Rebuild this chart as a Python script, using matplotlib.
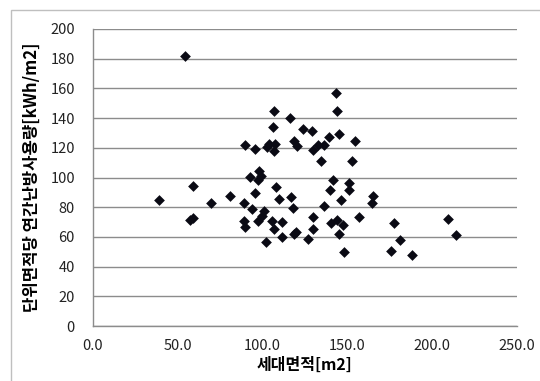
import matplotlib
matplotlib.use("Agg")
import matplotlib.pyplot as plt
from matplotlib.patches import Rectangle

plt.rcParams['font.family'] = ['Noto Sans CJK KR', 'DejaVu Sans']

area = [54.5, 39.0, 59.1, 57.5, 59.1, 69.5, 80.7, 89.8, 89.2, 89.2,
        89.8, 92.7, 94.1, 95.9, 95.9, 97.2, 98.0, 99.0, 97.6, 99.6,
        101.2, 102.0, 102.6, 104.1, 106.1, 106.7, 107.3, 106.7, 105.7, 106.7,
        108.3, 109.8, 111.4, 111.8, 116.3, 116.9, 118.3, 118.9, 120.3, 118.9,
        119.9, 124.2, 129.1, 129.7, 133.1, 134.6, 127.0, 129.7, 129.7, 136.6,
        139.2, 136.2, 140.2, 141.5, 140.7, 143.7, 144.3, 145.3, 144.3, 145.3,
        146.3, 147.8, 148.0, 151.4, 151.4, 152.8, 154.5, 157.3, 164.6, 165.2,
        175.8, 177.8, 181.3, 188.4, 209.8, 214.0]
energy = [181.8, 84.8, 94.3, 71.4, 72.5, 82.8, 87.5, 121.9, 82.6, 70.7,
          66.9, 100.6, 78.6, 119.2, 89.8, 98.3, 104.6, 101.0, 70.9, 74.1,
          77.7, 56.6, 120.3, 122.6, 134.2, 145.0, 122.6, 118.1, 70.7, 65.1,
          93.8, 85.7, 70.3, 60.2, 140.1, 87.1, 79.2, 124.8, 121.4, 61.7,
          63.3, 132.4, 131.5, 118.5, 122.1, 111.1, 58.8, 73.6, 65.1, 121.9,
          127.0, 81.0, 91.6, 98.1, 69.1, 157.1, 144.8, 129.5, 71.4, 61.7,
          84.8, 68.0, 49.6, 96.5, 91.6, 110.9, 124.4, 73.2, 82.6, 87.5,
          50.7, 69.6, 57.9, 47.8, 71.8, 61.3]

x_ticks = [0, 50, 100, 150, 200, 250]
x_tick_labels = ['0.0', '50.0', '100.0', '150.0', '200.0', '250.0']
y_ticks = [0, 20, 40, 60, 80, 100, 120, 140, 160, 180, 200]
x_label = '세대면적[m2]'
y_label = '단위면적당 연간난방사용량[kWh/m2]'

W, H = 540, 381
fig = plt.figure(figsize=(W / 100, H / 100), dpi=100)
fig.patches.append(Rectangle((11 / W, -0.1), 1.2, 1 - 9.5 / H + 0.1,
                             transform=fig.transFigure, fill=False,
                             edgecolor='#bfbfbf', linewidth=1.0))

ax = fig.add_axes([93 / W, 1 - 326 / H, (516.5 - 93) / W, (326 - 29) / H])
ax.scatter(area, energy, marker='D', s=30, color='#0a0a14', zorder=3,
           linewidths=0)
ax.set_xlim(0, 250)
ax.set_ylim(0, 200)
ax.set_xticks(x_ticks)
ax.set_xticklabels(x_tick_labels)
ax.set_yticks(y_ticks)
ax.yaxis.grid(True, color='#8c8c8c', linewidth=1.0)
ax.set_axisbelow(True)
for s in ['top', 'right']:
    ax.spines[s].set_visible(False)
for s in ['left', 'bottom']:
    ax.spines[s].set_color('#8c8c8c')
    ax.spines[s].set_linewidth(1.0)
ax.tick_params(axis='both', length=0, labelsize=10.5, colors='#222222')
ax.tick_params(axis='y', pad=13)
ax.tick_params(axis='x', pad=9)
ax.set_xlabel(x_label, fontsize=11.5, fontweight='bold', labelpad=3)
ax.set_ylabel(y_label, fontsize=12, fontweight='bold', labelpad=7)

fig.savefig('out.png', dpi=100)
